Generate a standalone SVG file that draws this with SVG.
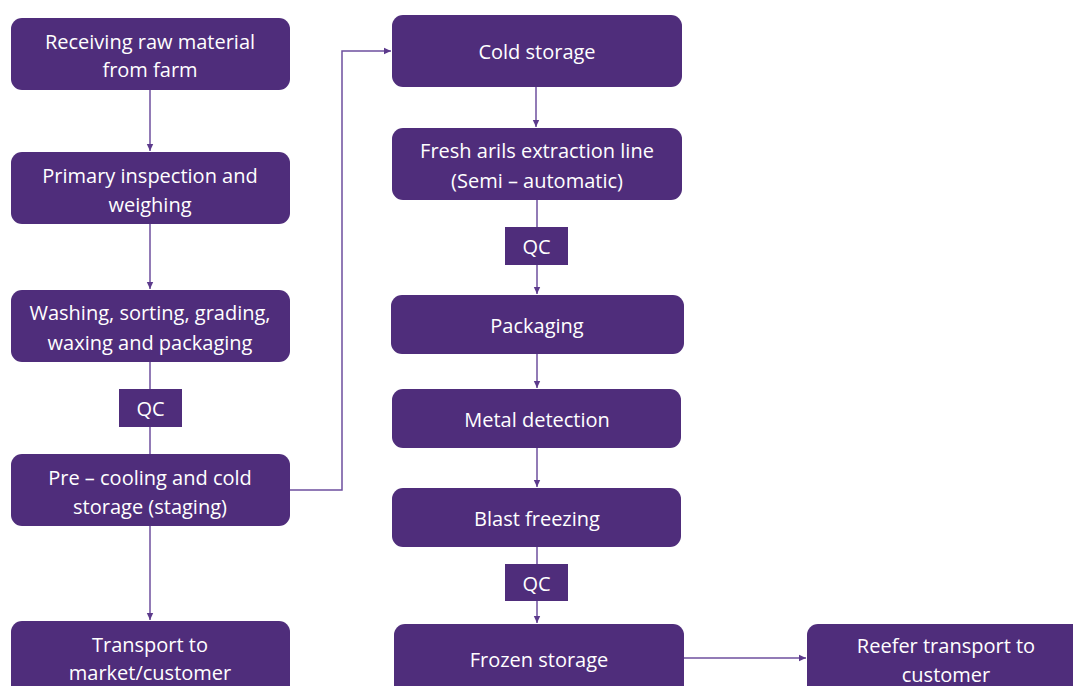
<svg xmlns="http://www.w3.org/2000/svg" width="1073" height="686" viewBox="0 0 1073 686">
<defs>
<marker id="ah" markerWidth="8" markerHeight="8" refX="7" refY="4" orient="auto" markerUnits="userSpaceOnUse">
<path d="M0,0.8 L7,4 L0,7.2 Z" fill="#5c3a8c"/>
</marker>
<style>
.box{fill:#4f2d7b;}
.t{font-family:"Open Sans","Liberation Sans",sans-serif;font-size:20px;fill:#ffffff;text-anchor:middle;dominant-baseline:central;}
.c{fill:none;stroke:#6e4f9e;stroke-width:1.5;}
</style>
</defs>
<rect width="1073" height="686" fill="#ffffff"/>
<g id="connectors">
<path class="c" d="M150,90 V151" marker-end="url(#ah)"/>
<path class="c" d="M150,224 V289" marker-end="url(#ah)"/>
<path class="c" d="M150,362 V389"/>
<path class="c" d="M150,427 V454"/>
<path class="c" d="M150,526 V620" marker-end="url(#ah)"/>
<path class="c" d="M290,490 H342 V51 H391" marker-end="url(#ah)"/>
<path class="c" d="M536,87 V127" marker-end="url(#ah)"/>
<path class="c" d="M537,200 V227"/>
<path class="c" d="M537,265 V294" marker-end="url(#ah)"/>
<path class="c" d="M537,354 V388" marker-end="url(#ah)"/>
<path class="c" d="M537,448 V487" marker-end="url(#ah)"/>
<path class="c" d="M537,547 V564"/>
<path class="c" d="M537,601 V623" marker-end="url(#ah)"/>
<path class="c" d="M684,658 H806" marker-end="url(#ah)"/>
</g>
<g id="n1"><rect class="box" x="11" y="18" width="279" height="72" rx="11"/><text class="t" x="150" y="41">Receiving raw material</text><text class="t" x="150" y="69">from farm</text></g>
<g id="n2"><rect class="box" x="11" y="152" width="279" height="72" rx="11"/><text class="t" x="150" y="175">Primary inspection and</text><text class="t" x="150" y="204">weighing</text></g>
<g id="n3"><rect class="box" x="11" y="290" width="279" height="72" rx="11"/><text class="t" x="150" y="312">Washing, sorting, grading,</text><text class="t" x="150" y="342">waxing and packaging</text></g>
<g id="qc1"><rect class="box" x="119" y="389" width="63" height="38"/><text class="t" x="150.5" y="408">QC</text></g>
<g id="n4"><rect class="box" x="11" y="454" width="279" height="72" rx="11"/><text class="t" x="150" y="477">Pre – cooling and cold</text><text class="t" x="150" y="506">storage (staging)</text></g>
<g id="n5"><rect class="box" x="11" y="621" width="279" height="80" rx="11"/><text class="t" x="150" y="644">Transport to</text><text class="t" x="150" y="672">market/customer</text></g>
<g id="r1"><rect class="box" x="392" y="15" width="290" height="72" rx="11"/><text class="t" x="537" y="51">Cold storage</text></g>
<g id="r2"><rect class="box" x="392" y="128" width="290" height="72" rx="11"/><text class="t" x="537" y="150">Fresh arils extraction line</text><text class="t" x="537" y="180">(Semi – automatic)</text></g>
<g id="qc2"><rect class="box" x="505" y="227" width="63" height="38"/><text class="t" x="536.5" y="246">QC</text></g>
<g id="r3"><rect class="box" x="391" y="295" width="293" height="59" rx="11"/><text class="t" x="537" y="325">Packaging</text></g>
<g id="r4"><rect class="box" x="392" y="389" width="289" height="59" rx="11"/><text class="t" x="537" y="419">Metal detection</text></g>
<g id="r5"><rect class="box" x="392" y="488" width="289" height="59" rx="11"/><text class="t" x="537" y="518">Blast freezing</text></g>
<g id="qc3"><rect class="box" x="505" y="564" width="63" height="37"/><text class="t" x="536.5" y="583">QC</text></g>
<g id="r6"><rect class="box" x="394" y="624" width="290" height="80" rx="11"/><text class="t" x="539" y="659">Frozen storage</text></g>
<g id="r7"><rect class="box" x="807" y="624" width="280" height="80" rx="11"/><text class="t" x="946" y="645">Reefer transport to</text><text class="t" x="946" y="674">customer</text></g>
</svg>
